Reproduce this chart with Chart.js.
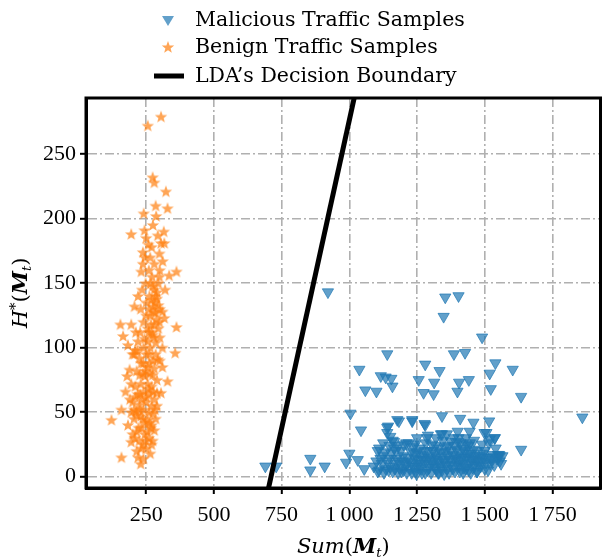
<!DOCTYPE html>
<html>
<head>
<meta charset="utf-8">
<script src="https://cdn.jsdelivr.net/npm/chart.js@4.4.0/dist/chart.umd.min.js"></script>
<style>
  html, body { margin: 0; padding: 0; background: #fff; }
</style>
</head>
<body>
<canvas id="chart" width="608" height="559"></canvas>
<script>
// ---- data ----
const benignX = [305,256,274,280,323,329,241,287,195,244,293,305,317,238,299,311,238,232,362,299,335,
  207,155,195,299,317,362,165,244,274,183,357,207,262,293,189,226,274,329,174,219,262,305,159,122,213,274,183,232,195,274,238,159,
  268,280,262,290,275,300,285,265,310,295,280,270,255,285,300,240,265,250,275,240,225,210,255,280,265,245,230,290,255,270,210,240,
  280,200,225,250,270,240,290,205,230,255,270,215,245,260,200,225,250,265,215,240,230,255,280,195,215,285,310,255,240,230,250,260,
  280,270,250,285,295,300,245,275,220,285,315,320,212,300,310,260,235,285,200,220,290,245,270,210,195,180,
  275,290,283,270,295,278,288,268,260,278,250,262,272,265,258,248,235,228,218,232,262,248,238,275,260,228,250,215,238,222,
  208,248,232,220,268,283,262,205,190,226];
const benignY = [279,272,232,228,221,208,204,202,188,191,187,181,181,174,173,167,165,159,159,155,156,
  132,118,118,120,123,116,109,107,110,102,96,95,95,91,83,79,79,74,66,64,64,65,52,44,51,49,40,38,27,28,25,15,
  150,145,140,138,132,130,127,125,128,115,118,112,105,104,108,100,100,95,90,88,92,98,85,84,80,78,72,75,72,70,70,66,
  60,58,56,58,55,52,55,45,47,44,40,35,33,30,33,28,22,18,20,14,10,35,36,72,82,95,100,115,120,130,135,160,
  165,178,185,140,150,160,170,195,140,210,190,145,112,90,85,50,60,45,95,105,65,42,25,62,50,78,
  148,143,135,137,133,128,122,118,112,108,125,130,155,170,180,150,145,112,98,88,88,82,80,66,68,64,62,48,45,38,
  30,28,22,15,38,52,42,52,60,52];

const maliciousX = [921,1354,1403,1348,1490,1140,1386,1427,1280,1539,1037,1333,1518,1603,1116,1134,1155,1256,1313,1405,1441,
  1059,1100,1159,1274,1311,1399,1522,1634,1004,1860,1043,1232,1278,1342,1409,1458,1516,1143,1183,1634,856,856,909,988,1000,
  1031,1055,1110,1165,1219,1338,1403,1445,1506,1537,1555,690,730,1518,1494,1549,1470,1140,
  1090,1100,1110,1120,1125,1135,1140,1150,1155,1160,1170,1175,1185,1190,1195,1200,1210,1215,1225,1230,1240,1245,1250,1255,
  1260,1265,1270,1275,1280,1285,1290,1295,1300,1305,1310,1315,1320,1325,1330,1335,1340,1345,1350,1355,1360,1365,1370,1375,
  1380,1385,1390,1395,1400,1405,1410,1415,1420,1425,1430,1435,1440,1445,1450,1455,1460,1470,1475,1480,1490,1500,1510,1520,
  1530,1545,1555,1565,1160,1180,1210,1250,1290,1320,1360,1400,1430,1460,1230,1330,1420,1470,1500,1180,1250,1350,1395,1318,
  1375,1282,1410,1440,1490,1515,1540,1105,1148,
  1105,1115,1128,1132,1145,1152,1168,1172,1182,1192,1198,1205,1212,1220,1228,1236,1242,1248,1258,1262,1268,1272,1278,1288,
  1292,1298,1302,1308,1312,1318,1322,1328,1332,1338,1342,1348,1352,1358,1362,1368,1372,1378,1382,1388,1392,1398,1402,1408,
  1412,1418,1422,1428,1432,1438,1442,1448,1452,1458,1462,1468,1472,1478,1485,1495,1505,1512,1525,1535,1550,1560,1125,1165,
  1200,1236,1177,1232,1140,1151,1280,1287,1342,1444,1499,1536,1243,1553,1525];
const maliciousY = [143,139,140,124,108,95,95,96,87,88,83,82,80,83,78,77,76,75,73,73,75,
  67,66,70,65,64,66,68,62,49,46,36,43,41,47,45,42,43,39,43,21,14,5,8,11,18,
  13,6,22,27,26,33,30,26,34,30,16,8,8,29,18,17,13,34,
  8,12,5,10,16,6,12,8,18,4,10,14,7,20,12,5,9,15,6,11,18,4,8,13,
  22,6,10,16,3,12,20,7,14,25,9,18,5,12,22,8,15,28,11,19,6,24,13,9,
  17,30,4,21,12,8,26,15,10,20,6,16,24,11,18,7,14,20,9,16,12,20,15,10,
  17,14,12,16,28,24,26,30,32,30,33,35,30,28,3,3,3,4,6,3,19,2,14,24,
  27,26,19,5,25,26,22,20,24,
  4,14,3,19,5,14,6,20,12,4,16,10,3,12,19,8,14,2,10,17,3,13,20,5,
  15,10,3,20,13,7,16,3,11,19,5,13,23,9,16,3,20,12,6,24,16,9,27,4,
  13,22,7,15,25,10,18,3,13,21,9,16,4,12,8,15,11,5,13,9,16,10,26,22,
  25,23,44,44,38,31,40,30,33,35,34,30,25,17,15];

const boundaryX = [690, 1030];
const boundaryY = [-20, 305];

const xTicks = [250, 500, 750, 1000, 1250, 1500, 1750];
const yTicks = [0, 50, 100, 150, 200, 250];

const legendLabels = ['Malicious Traffic Samples', 'Benign Traffic Samples', "LDA\u2019s Decision Boundary"];

// ---- styling helpers ----
const SERIF = "'DejaVu Serif', serif";
const TICKFONT = "'Liberation Serif', serif";
const BLUE = 'rgba(31,119,180,0.7)';
const ORANGE = 'rgba(255,127,14,0.7)';

function makeStar(size, color) {
  const c = document.createElement('canvas');
  c.width = size; c.height = size;
  const g = c.getContext('2d');
  const cx = size / 2, cy = size / 2 + 0.6, R = size / 2 - 0.5, r = R * 0.42;
  g.beginPath();
  for (let i = 0; i < 10; i++) {
    const a = -Math.PI / 2 + i * Math.PI / 5;
    const rad = i % 2 ? r : R;
    g.lineTo(cx + Math.cos(a) * rad, cy + Math.sin(a) * rad);
  }
  g.closePath();
  g.fillStyle = color;
  g.fill();
  return c;
}
const starImg = makeStar(14, ORANGE);

function fmtTick(v) {
  return v >= 1000 ? String(v).replace(/(\d)(\d{3})$/, '$1\u2009$2') : String(v);
}

// draws a run of differently styled text pieces, centred on x
function drawRich(ctx, parts, x, y) {
  let total = 0;
  parts.forEach(p => { ctx.font = p.font; p.w = ctx.measureText(p.t).width; total += p.w; });
  let cx = x - total / 2;
  ctx.textBaseline = 'alphabetic';
  ctx.textAlign = 'left';
  parts.forEach(p => { ctx.font = p.font; ctx.fillText(p.t, cx, y + (p.dy || 0)); cx += p.w; });
}

const extras = {
  id: 'extras',
  afterDraw(chart) {
    const ctx = chart.ctx;
    const a = chart.chartArea;
    ctx.save();
    // frame
    ctx.strokeStyle = '#000';
    ctx.lineWidth = 3;
    ctx.strokeRect(a.left, a.top, a.right - a.left, a.bottom - a.top);

    // legend
    ctx.fillStyle = '#000';
    ctx.font = '20.5px ' + SERIF;
    ctx.textBaseline = 'middle';
    ctx.textAlign = 'left';
    const rows = [20, 47, 76];
    legendLabels.forEach((t, i) => ctx.fillText(t, 195, rows[i] + 1));
    // triangle marker
    ctx.fillStyle = BLUE;
    ctx.beginPath();
    ctx.moveTo(162, rows[0] - 4);
    ctx.lineTo(174, rows[0] - 4);
    ctx.lineTo(168, rows[0] + 6);
    ctx.closePath();
    ctx.fill();
    ctx.drawImage(starImg, 161, rows[1] - 7);
    ctx.fillStyle = '#000';
    ctx.fillRect(154, rows[2] - 2.5, 30, 5);

    // axis titles
    const it = 'italic 21px ' + SERIF;
    const bi = 'italic bold 21px ' + SERIF;
    const up = '21px ' + SERIF;
    const sub = 'italic 13px ' + SERIF;
    drawRich(ctx, [
      { t: 'Sum', font: it }, { t: '(', font: up }, { t: 'M', font: bi },
      { t: 't', font: sub, dy: 4 }, { t: ')', font: up }
    ], (a.left + a.right) / 2, 553);

    ctx.save();
    ctx.translate(27, (a.top + a.bottom) / 2);
    ctx.rotate(-Math.PI / 2);
    drawRich(ctx, [
      { t: 'H', font: it }, { t: '*', font: '15px ' + SERIF, dy: -7 }, { t: '(', font: up },
      { t: 'M', font: bi }, { t: 't', font: sub, dy: 4 }, { t: ')', font: up }
    ], 0, 0);
    ctx.restore();
    ctx.restore();
  }
};

const toPts = (xs, ys) => xs.map((x, i) => ({ x, y: ys[i] }));

const gridCommon = {
  color: '#b0b0b0',
  lineWidth: 1.6,
  tickLength: 6,
  tickColor: '#000',
  tickWidth: 2,
  tickBorderDash: []
};

new Chart(document.getElementById('chart'), {
  type: 'scatter',
  data: {
    datasets: [
      {
        type: 'line',
        label: legendLabels[2],
        data: toPts(boundaryX, boundaryY),
        borderColor: '#000',
        borderWidth: 5,
        pointRadius: 0,
        fill: false,
        clip: 0,
        order: 0
      },
      {
        label: legendLabels[0],
        data: toPts(maliciousX, maliciousY),
        pointStyle: 'triangle',
        rotation: 180,
        pointRadius: 6.5,
        backgroundColor: BLUE,
        borderColor: BLUE,
        borderWidth: 1,
        order: 1
      },
      {
        label: legendLabels[1],
        data: toPts(benignX, benignY),
        pointStyle: starImg,
        order: 2
      }
    ]
  },
  options: {
    responsive: false,
    animation: false,
    events: [],
    layout: { padding: { top: 98, right: 3, left: 0, bottom: 0 } },
    plugins: { legend: { display: false }, tooltip: { enabled: false } },
    scales: {
      x: {
        type: 'linear',
        min: 28,
        max: 1927,
        afterBuildTicks: s => { s.ticks = xTicks.map(v => ({ value: v })); },
        afterFit: s => { s.height = 71; },
        grid: gridCommon,
        border: { color: '#000', width: 3, dash: [9, 3, 2, 3] },
        ticks: {
          color: '#000',
          padding: 8,
          maxRotation: 0,
          font: { family: TICKFONT, size: 22 },
          callback: v => fmtTick(v)
        }
      },
      y: {
        type: 'linear',
        min: -8.8,
        max: 293.4,
        afterBuildTicks: s => { s.ticks = yTicks.map(v => ({ value: v })); },
        afterFit: s => { s.width = 86; },
        grid: gridCommon,
        border: { color: '#000', width: 3, dash: [9, 3, 2, 3] },
        ticks: {
          color: '#000',
          padding: 4,
          font: { family: TICKFONT, size: 22 },
          callback: v => fmtTick(v)
        }
      }
    }
  },
  plugins: [extras]
});
</script>
</body>
</html>
